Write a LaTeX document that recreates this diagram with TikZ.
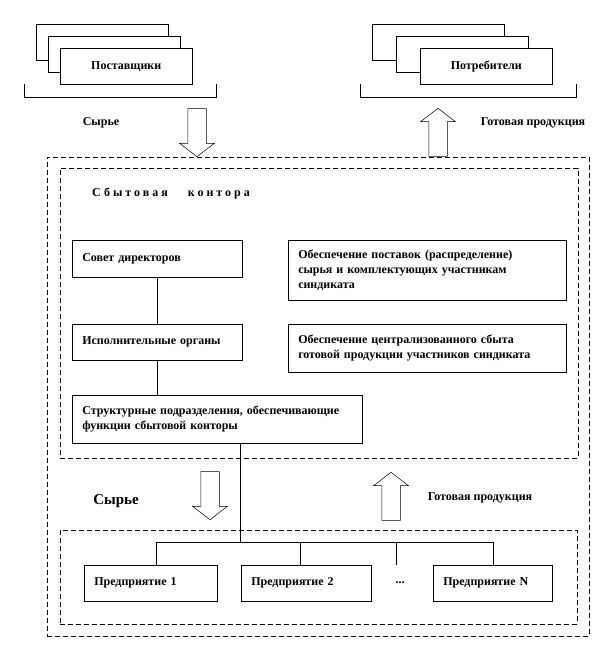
\documentclass[tikz,border=0pt]{standalone}
\usepackage{fontspec}
\setmainfont{Liberation Serif}
\usetikzlibrary{shapes.arrows}
\newcommand{\boxfont}{\fontsize{12}{15}\selectfont\bfseries}
\newcommand{\bigfont}{\fontsize{15}{18}\selectfont\bfseries}
\newcommand{\spaced}{\addfontfeature{LetterSpace=25}}
\tikzset{
  zone/.style={draw, dash pattern=on 5pt off 3pt, line width=0.5pt, anchor=north west, inner sep=0pt},
  stack/.style={draw, fill=white, line width=0.5pt, anchor=north west, minimum width=132pt, minimum height=36pt, inner sep=0pt, font=\boxfont},
  orgbox/.style 2 args={draw, line width=0.5pt, anchor=north west, align=left, inner xsep=10pt, inner ysep=0pt, text width=#1, minimum height=#2, font=\boxfont},
  blockarrow/.style={single arrow, draw, fill=white, line width=0.5pt, inner sep=9pt, minimum height=48pt, single arrow head extend=8pt, single arrow tip angle=105, anchor=tip},
  lbl/.style={font=\boxfont, inner sep=0pt},
}

\begin{document}
\begin{tikzpicture}[x=1pt,y=-1pt]
    \useasboundingbox (0,0) rectangle (612,672);
    %\draw[help lines] (0,0) grid[step=50] (612,672);

    % suppliers and consumers
    \node[stack] (postBack) at (36,24) {};
    \node[stack] (postMid) at (48,36) {};
    \node[stack] (post) at (60,48) {Поставщики};
    \draw (24,84) -- (24,97) -- (216,97) -- (216,84);

    \node[stack] (consBack) at (372,24) {};
    \node[stack] (consMid) at (396,36) {};
    \node[stack] (cons) at (420,48) {Потребители};
    \draw (360,84) -- (360,97) -- (576,97) -- (576,84);

    % frames
    \node[zone, minimum width=542pt, minimum height=479pt] (outer) at (47,157) {};
    \node[zone, minimum width=518pt, minimum height=290pt] (office) at (60,168) {};
    \node[zone, minimum width=517pt, minimum height=94pt] (firms) at (60,530) {};

    % flows
    \node[blockarrow, shape border rotate=270] (rawIn) at (197,157) {};
    \node[blockarrow, shape border rotate=90] (goodsOut) at (438,108) {};
    \node[blockarrow, shape border rotate=270] (rawDown) at (210,520) {};
    \node[blockarrow, shape border rotate=90] (goodsUp) at (391,472) {};

    \node[lbl] (rawTop) at (101,123) {Сырье};
    \node[lbl] (goodsTop) at (533,123) {Готовая продукция};
    \node[lbl, font=\bigfont] (rawBot) at (116,501) {Сырье};
    \node[lbl] (goodsBot) at (480,498) {Готовая продукция};

    % sales office
    \node[lbl, anchor=west] (title) at (92,193) {\spaced Сбытовая\hspace{20pt}контора};

    \node[orgbox={150pt}{37pt}] (sovet) at (72,240) {Совет директоров};
    \node[orgbox={150pt}{36pt}] (ispoln) at (72,324) {Исполнительные  органы};
    \node[orgbox={270pt}{48pt}] (struct) at (72,395) {Структурные подразделения,  обеспечивающие\\функции сбытовой конторы};
    \node[orgbox={258pt}{60pt}] (supply) at (288,240) {Обеспечение поставок (распределение)\\сырья и комплектующих  участникам\\синдиката};
    \node[orgbox={258pt}{48pt}] (sales) at (288,324) {Обеспечение централизованного  сбыта\\готовой продукции участников синдиката};

    \draw (sovet.south) -- (ispoln.north);
    \draw (ispoln.south) -- (ispoln.south |- struct.north);

    % enterprises
    \node[orgbox={113pt}{36pt}] (ent1) at (84,565) {Предприятие 1};
    \node[orgbox={110pt}{36pt}] (ent2) at (241,565) {Предприятие 2};
    \node[orgbox={99pt}{36pt}] (entN) at (433,565) {Предприятие N};
    \node[lbl] (dots) at (400,583) {...};

    \coordinate (hub) at (240,542);
    \coordinate (j1) at (156,542);
    \coordinate (j2) at (300,542);
    \coordinate (j3) at (396,542);
    \coordinate (jN) at (493,542);

    \draw (hub |- struct.south) -- (hub);
    \draw (j1) -- (jN);
    \foreach \j/\e in {j1/ent1, j2/ent2, j3/ent2, jN/entN}
        \draw (\j) -- (\j |- \e.north);
\end{tikzpicture}
\end{document}
